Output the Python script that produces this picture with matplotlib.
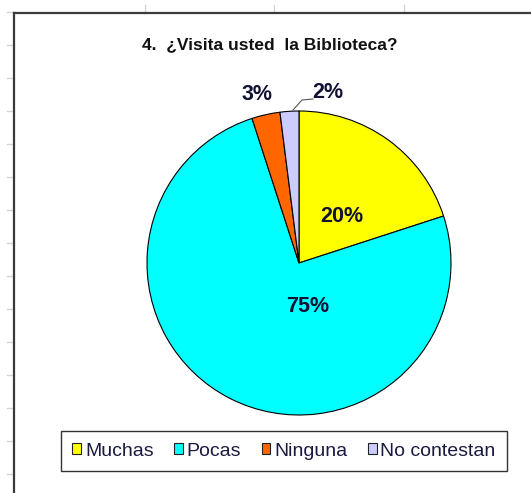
import matplotlib
matplotlib.use("Agg")
import matplotlib.pyplot as plt
from matplotlib.lines import Line2D

plt.rcParams['font.family'] = ['Liberation Sans', 'DejaVu Sans']

# ---- data ----
title = "4.  ¿Visita usted  la Biblioteca?"
categories = ["Muchas", "Pocas", "Ninguna", "No contestan"]
values = [20, 75, 3, 2]
colors = ["#FFFF00", "#00FFFF", "#FF6600", "#CCCCFF"]

W, H = 531, 493
fig = plt.figure(figsize=(W / 100, H / 100), dpi=100)
fig.patch.set_facecolor("white")

# spreadsheet gridlines behind the chart (pixel coordinates)
grid_color = "#d4d4d4"
for gx in [145, 274, 404]:
    fig.add_artist(Line2D([gx / W, gx / W], [1 - 5 / H, 1 - 13 / H], color=grid_color, lw=1))
for k in range(15):
    gy = 12 + 33 * k
    fig.add_artist(Line2D([7 / W, 14 / W], [1 - gy / H, 1 - gy / H], color=grid_color, lw=1))

# chart frame (left and top edges visible)
fig.add_artist(Line2D([14 / W, 14 / W], [0, 1 - 13 / H], color="#3a3a3a", lw=1.6))
fig.add_artist(Line2D([14 / W, 1], [1 - 13 / H, 1 - 13 / H], color="#3a3a3a", lw=1.6))

# axes in pixel units
ax = fig.add_axes([0, 0, 1, 1])
ax.set_xlim(0, W)
ax.set_ylim(0, H)
ax.set_aspect("equal")
ax.axis("off")

cx, cy, r = 299, H - 263, 152
wedges, _ = ax.pie(values, colors=colors, startangle=90, counterclock=False,
                   center=(cx, cy), radius=r,
                   wedgeprops=dict(edgecolor="black", linewidth=0.8))
ax.set_xlim(0, W)
ax.set_ylim(0, H)

label_color = "#111133"
label_pos = [(342, 216), (308, 306), (257, 94), (328, 93)]
for v, (lx, ly) in zip(values, label_pos):
    ax.text(lx, H - ly, f"{v}%", ha="center", va="center", fontsize=15.5,
            fontweight="bold", color=label_color)

# leader line for the small slice
ax.plot([293, 302, 313], [H - 110, H - 100, H - 99], color="#555555", lw=0.8)

ax.text(270, H - 45, title, ha="center", va="center", fontsize=12.5,
        fontweight="bold", color="#111111")

leg = fig.legend(wedges, categories, loc="center", bbox_to_anchor=(284 / W, 1 - 451 / H),
                 ncol=4, fontsize=14, frameon=True, fancybox=False,
                 edgecolor="black", handlelength=0.45, handleheight=0.45,
                 handletextpad=0.2, columnspacing=1.05, borderpad=0.6,
                 labelcolor="#1a1a40")
leg.get_frame().set_linewidth(1.0)
for h in leg.legend_handles:
    h.set_edgecolor("#222222")
    h.set_linewidth(0.8)

fig.savefig("out.png", dpi=100)
